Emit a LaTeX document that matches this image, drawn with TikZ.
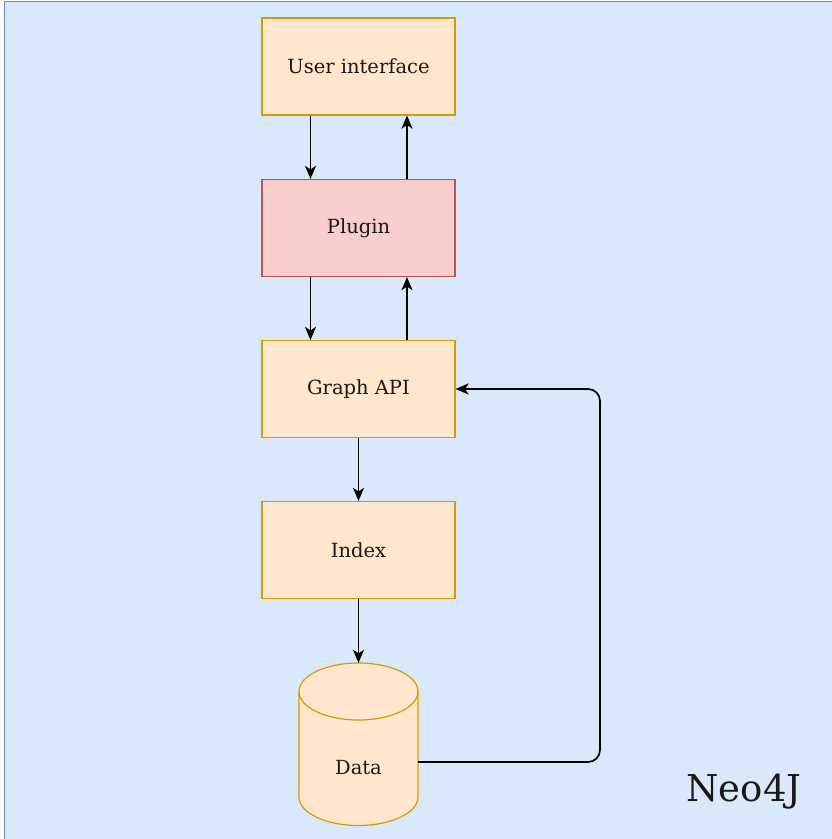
\documentclass[tikz,border=0pt]{standalone}
\usepackage{fontspec}
\setmainfont{DejaVu Serif}
\usetikzlibrary{arrows.meta}
\definecolor{bgfill}{HTML}{DAE8FC}
\definecolor{bgline}{HTML}{6C8EBF}
\definecolor{orfill}{HTML}{FFE6CC}
\definecolor{orline}{HTML}{D79B00}
\definecolor{rdfill}{HTML}{F8CECC}
\definecolor{rdline}{HTML}{B85450}
\tikzset{
  box/.style={draw=orline, fill=orfill, line width=1.2pt, minimum width=193pt, minimum height=97pt, inner sep=0pt, font=\fontsize{19.5}{22}\selectfont, text=black!90},
  redbox/.style={box, draw=rdline, fill=rdfill},
  conn/.style={line width=1.7pt, -{Stealth[length=13pt,width=11pt,inset=3.5pt]}},
}
\begin{document}
\begin{tikzpicture}[x=1pt,y=-1pt]
\useasboundingbox (0,0) rectangle (832,839);
\draw[fill=bgfill, draw=bgline, line width=1.2pt] (4.6,1.6) rectangle (833,840);
\node[box] (ui) at (358.5,66.5) {User interface};
\node[redbox] (plugin) at (358.5,228) {Plugin};
\node[box] (graph) at (358.5,389) {Graph API};
\node[box] (index) at (358.5,550) {Index};
% cylinder
\draw[draw=orline, fill=orfill, line width=1.2pt]
  (299,691.5) -- (299,797) arc[start angle=180, end angle=0, x radius=59.5, y radius=28.5]
  -- (418,691.5) arc[start angle=0, end angle=-180, x radius=59.5, y radius=28.5] -- cycle;
\draw[draw=orline, line width=1.2pt] (299,691.5) arc[start angle=180, end angle=0, x radius=59.5, y radius=28.5];
\node[inner sep=0pt, minimum width=119pt, minimum height=162pt] (data) at (358.5,744) {};
\node[font=\fontsize{19.5}{22}\selectfont, text=black!90] (datatext) at (358.5,768) {Data};
\node[font=\fontsize{37}{42}\selectfont, text=black!90] (neo) at (744,792) {Neo4J};
\coordinate (cornerA) at (600,762);
\coordinate (cornerB) at (600,389);
% connectors
\draw[conn] ([xshift=-48pt]ui.south) -- ([xshift=-48pt]plugin.north);
\draw[conn] ([xshift=48.5pt]plugin.north) -- ([xshift=48.5pt]ui.south);
\draw[conn] ([xshift=-48pt]plugin.south) -- ([xshift=-48pt]graph.north);
\draw[conn] ([xshift=48.5pt]graph.north) -- ([xshift=48.5pt]plugin.south);
\draw[conn] (graph.south) -- (index.north);
\draw[conn] (index.south) -- (data.north);
\draw[conn, rounded corners=12pt] (data.east |- cornerA) -- (cornerA) -- (cornerB) -- (graph.east);
\end{tikzpicture}
\end{document}
